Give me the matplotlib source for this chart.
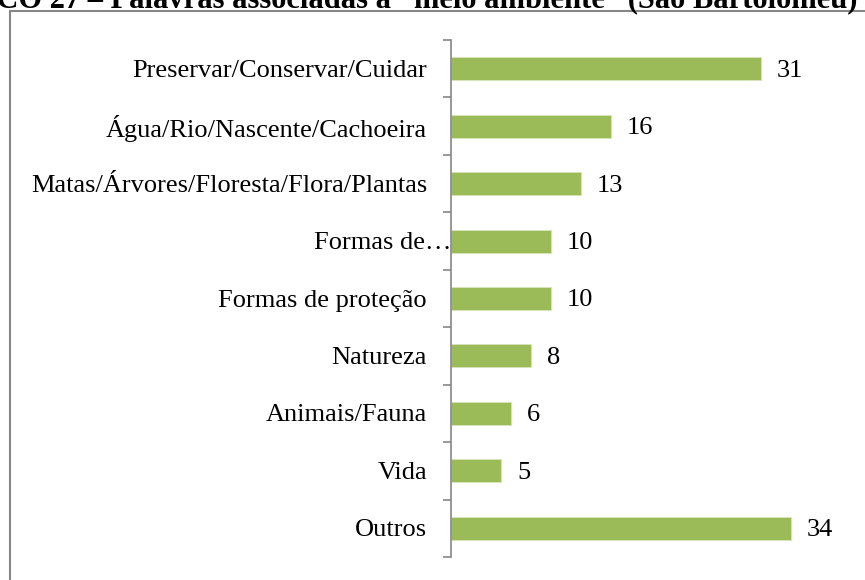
import matplotlib
matplotlib.use("Agg")
import matplotlib.pyplot as plt
import matplotlib.transforms as mtransforms
from matplotlib.patches import Rectangle

categories = ["Preservar/Conservar/Cuidar", "Água/Rio/Nascente/Cachoeira",
              "Matas/Árvores/Floresta/Flora/Plantas", "Formas de…",
              "Formas de proteção", "Natureza", "Animais/Fauna", "Vida", "Outros"]
values = [31, 16, 13, 10, 10, 8, 6, 5, 34]
title = "GRÁFICO 27 – Palavras associadas a \u201cmeio ambiente\u201d (São Bartolomeu)"

W, H, DPI = 865, 580, 100
fig = plt.figure(figsize=(W / DPI, H / DPI), dpi=DPI)
plt.rcParams['font.family'] = ['Liberation Serif', 'DejaVu Serif']

# outer chart frame (clipped by the image edges)
fig.patches.append(Rectangle((10 / W, -0.1), 1.2, (H - 11) / H + 0.1,
                             transform=fig.transFigure, fill=False,
                             edgecolor="#878787", linewidth=1.5))

# title clipped at top
fig.text(-102 / W, 1 - 8 / H, title, fontsize=22, fontweight="bold",
         ha="left", va="baseline", family=['Liberation Serif', 'DejaVu Serif'])

left, right, top, bottom = 451, 851, 40, 557
ax = fig.add_axes([left / W, 1 - bottom / H, (right - left) / W, (bottom - top) / H])

n = len(categories)
ys = list(range(n))
ax.barh(ys, values, height=0.4, color="#9BBB59", edgecolor="#D7E4BD", linewidth=0.6)
ax.set_ylim(n - 0.5, -0.5)
ax.set_xlim(0, 40)

for s in ["top", "right", "bottom"]:
    ax.spines[s].set_visible(False)
ax.spines["left"].set_color("#868686")
ax.spines["left"].set_linewidth(1.2)
ax.set_xticks([])
ax.set_yticks([i - 0.5 for i in range(n + 1)])
ax.set_yticklabels([])
ax.tick_params(axis="y", length=6, width=1.2, color="#868686", direction="out")

fs = 19
for i, (c, v) in enumerate(zip(categories, values)):
    pad = -24 if c != "Formas de…" else 0
    off = mtransforms.offset_copy(ax.get_yaxis_transform(), fig=fig, x=pad, y=-2, units="dots")
    ax.text(0, i, c, transform=off, ha="right", va="center", fontsize=fs)
    off2 = mtransforms.offset_copy(ax.transData, fig=fig, x=16, y=-2, units="dots")
    ax.text(v, i, str(v), transform=off2, ha="left", va="center", fontsize=fs)

fig.savefig("out.png", dpi=DPI)
